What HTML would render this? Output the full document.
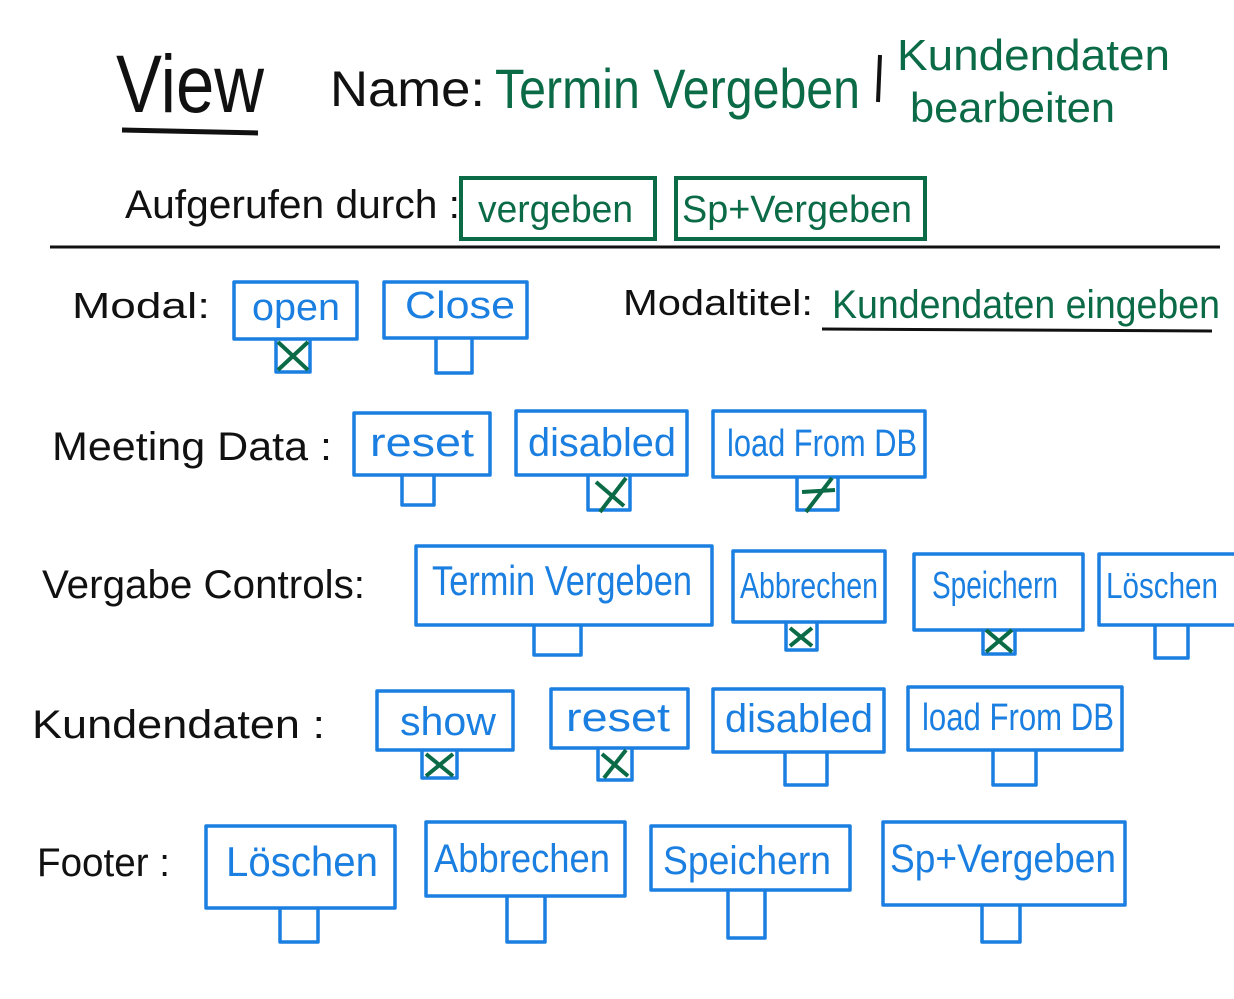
<!DOCTYPE html>
<html><head><meta charset="utf-8"><style>
html,body{margin:0;padding:0;background:#fff;}
svg{display:block}
text{font-family:"Liberation Sans",sans-serif;}
.k{fill:#111}
.g{fill:#0b6b47}
.b{fill:#1a7fe0}
.bb{fill:none;stroke:#1a7fe0;stroke-width:3.5;stroke-linejoin:round}
.gb{fill:none;stroke:#0b6b47;stroke-width:4}
.x{stroke:#0b6b47;stroke-width:4}
</style></head><body>
<svg width="1234" height="999" viewBox="0 0 1234 999" xmlns="http://www.w3.org/2000/svg">
<!-- header -->
<text x="116" y="112" class="k" font-size="82" textLength="148" lengthAdjust="spacingAndGlyphs">View</text>
<line x1="122" y1="130" x2="258" y2="133" stroke="#111" stroke-width="5"/>
<text x="330" y="106" class="k" font-size="50" textLength="155" lengthAdjust="spacingAndGlyphs">Name:</text>
<text x="495" y="108" class="g" font-size="56" textLength="365" lengthAdjust="spacingAndGlyphs">Termin Vergeben</text>
<line x1="880" y1="55" x2="878" y2="102" stroke="#111" stroke-width="4"/>
<text x="897" y="70" class="g" font-size="44" textLength="273" lengthAdjust="spacingAndGlyphs">Kundendaten</text>
<text x="910" y="122" class="g" font-size="42" textLength="205" lengthAdjust="spacingAndGlyphs">bearbeiten</text>
<text x="125" y="218" class="k" font-size="40" textLength="335" lengthAdjust="spacingAndGlyphs">Aufgerufen durch :</text>
<rect x="461" y="178" width="194" height="61" class="gb"/>
<text x="478" y="222" class="g" font-size="38" textLength="155" lengthAdjust="spacingAndGlyphs">vergeben</text>
<rect x="676" y="178" width="249" height="61" class="gb"/>
<text x="682" y="222" class="g" font-size="38" textLength="230" lengthAdjust="spacingAndGlyphs">Sp+Vergeben</text>
<line x1="50" y1="247" x2="1220" y2="247" stroke="#111" stroke-width="3"/>

<!-- Modal -->
<text x="72" y="318" class="k" font-size="36" textLength="138" lengthAdjust="spacingAndGlyphs">Modal:</text>
<rect x="234" y="282" width="123" height="57" class="bb"/>
<text x="252" y="320" class="b" font-size="38" textLength="88" lengthAdjust="spacingAndGlyphs">open</text>
<path d="M276 340 V372 H310 V340" class="bb"/>
<line x1="278" y1="342" x2="308" y2="370" class="x"/><line x1="308" y1="342" x2="278" y2="370" class="x"/>
<rect x="384" y="282" width="143" height="56" class="bb"/>
<text x="405" y="318" class="b" font-size="38" textLength="110" lengthAdjust="spacingAndGlyphs">Close</text>
<path d="M436 338 V373 H472 V338" class="bb"/>
<text x="623" y="315" class="k" font-size="36" textLength="190" lengthAdjust="spacingAndGlyphs">Modaltitel:</text>
<text x="832" y="318" class="g" font-size="40" textLength="388" lengthAdjust="spacingAndGlyphs">Kundendaten eingeben</text>
<line x1="822" y1="329" x2="1212" y2="331" stroke="#111" stroke-width="3"/>

<!-- Meeting Data -->
<text x="52" y="460" class="k" font-size="40" textLength="280" lengthAdjust="spacingAndGlyphs">Meeting Data :</text>
<rect x="354" y="413" width="136" height="62" class="bb"/>
<text x="370" y="456" class="b" font-size="40" textLength="104" lengthAdjust="spacingAndGlyphs">reset</text>
<path d="M402 475 V505 H434 V475" class="bb"/>
<rect x="516" y="411" width="171" height="64" class="bb"/>
<text x="528" y="456" class="b" font-size="40" textLength="148" lengthAdjust="spacingAndGlyphs">disabled</text>
<path d="M588 475 V510 H630 V475" class="bb"/>
<line x1="596" y1="482" x2="624" y2="506" class="x"/><line x1="626" y1="478" x2="600" y2="512" class="x"/>
<rect x="713" y="411" width="212" height="66" class="bb"/>
<text x="727" y="456" class="b" font-size="38" textLength="190" lengthAdjust="spacingAndGlyphs">load From DB</text>
<path d="M797 477 V510 H838 V477" class="bb"/>
<line x1="802" y1="492" x2="835" y2="490" class="x"/><line x1="832" y1="478" x2="806" y2="512" class="x"/>

<!-- Vergabe Controls -->
<text x="42" y="598" class="k" font-size="40" textLength="323" lengthAdjust="spacingAndGlyphs">Vergabe Controls:</text>
<rect x="416" y="546" width="296" height="79" class="bb"/>
<text x="432" y="595" class="b" font-size="42" textLength="260" lengthAdjust="spacingAndGlyphs">Termin Vergeben</text>
<path d="M534 625 V655 H581 V625" class="bb"/>
<rect x="733" y="551" width="152" height="71" class="bb"/>
<text x="740" y="598" class="b" font-size="36" textLength="138" lengthAdjust="spacingAndGlyphs">Abbrechen</text>
<path d="M786 622 V650 H817 V622" class="bb"/>
<line x1="790" y1="628" x2="812" y2="646" class="x"/><line x1="812" y1="628" x2="790" y2="646" class="x"/>
<rect x="914" y="554" width="169" height="76" class="bb"/>
<text x="932" y="598" class="b" font-size="38" textLength="126" lengthAdjust="spacingAndGlyphs">Speichern</text>
<path d="M983 630 V654 H1015 V630" class="bb"/>
<line x1="986" y1="630" x2="1012" y2="652" class="x"/><line x1="1012" y1="630" x2="986" y2="652" class="x"/>
<rect x="1099" y="554" width="140" height="71" class="bb"/>
<text x="1106" y="598" class="b" font-size="36" textLength="112" lengthAdjust="spacingAndGlyphs">Löschen</text>
<path d="M1155 625 V658 H1188 V625" class="bb"/>

<!-- Kundendaten -->
<text x="32" y="738" class="k" font-size="40" textLength="293" lengthAdjust="spacingAndGlyphs">Kundendaten :</text>
<rect x="377" y="691" width="136" height="59" class="bb"/>
<text x="400" y="735" class="b" font-size="40" textLength="96" lengthAdjust="spacingAndGlyphs">show</text>
<path d="M422 750 V778 H457 V750" class="bb"/>
<line x1="426" y1="754" x2="453" y2="776" class="x"/><line x1="453" y1="754" x2="426" y2="776" class="x"/>
<rect x="551" y="689" width="137" height="59" class="bb"/>
<text x="566" y="731" class="b" font-size="40" textLength="104" lengthAdjust="spacingAndGlyphs">reset</text>
<path d="M598 748 V780 H632 V748" class="bb"/>
<line x1="602" y1="754" x2="628" y2="776" class="x"/><line x1="626" y1="750" x2="604" y2="778" class="x"/>
<rect x="713" y="689" width="171" height="63" class="bb"/>
<text x="725" y="732" class="b" font-size="40" textLength="148" lengthAdjust="spacingAndGlyphs">disabled</text>
<path d="M785 752 V785 H827 V752" class="bb"/>
<rect x="908" y="687" width="214" height="63" class="bb"/>
<text x="922" y="730" class="b" font-size="38" textLength="192" lengthAdjust="spacingAndGlyphs">load From DB</text>
<path d="M993 750 V785 H1036 V750" class="bb"/>

<!-- Footer -->
<text x="37" y="876" class="k" font-size="40" textLength="133" lengthAdjust="spacingAndGlyphs">Footer :</text>
<rect x="206" y="826" width="189" height="82" class="bb"/>
<text x="226" y="876" class="b" font-size="42" textLength="152" lengthAdjust="spacingAndGlyphs">Löschen</text>
<path d="M280 908 V942 H318 V908" class="bb"/>
<rect x="426" y="822" width="199" height="74" class="bb"/>
<text x="434" y="872" class="b" font-size="40" textLength="176" lengthAdjust="spacingAndGlyphs">Abbrechen</text>
<path d="M507 896 V942 H545 V896" class="bb"/>
<rect x="651" y="826" width="199" height="64" class="bb"/>
<text x="663" y="874" class="b" font-size="40" textLength="168" lengthAdjust="spacingAndGlyphs">Speichern</text>
<path d="M728 890 V938 H765 V890" class="bb"/>
<rect x="883" y="822" width="242" height="83" class="bb"/>
<text x="890" y="872" class="b" font-size="40" textLength="226" lengthAdjust="spacingAndGlyphs">Sp+Vergeben</text>
<path d="M982 905 V942 H1020 V905" class="bb"/>
</svg>
</body></html>
